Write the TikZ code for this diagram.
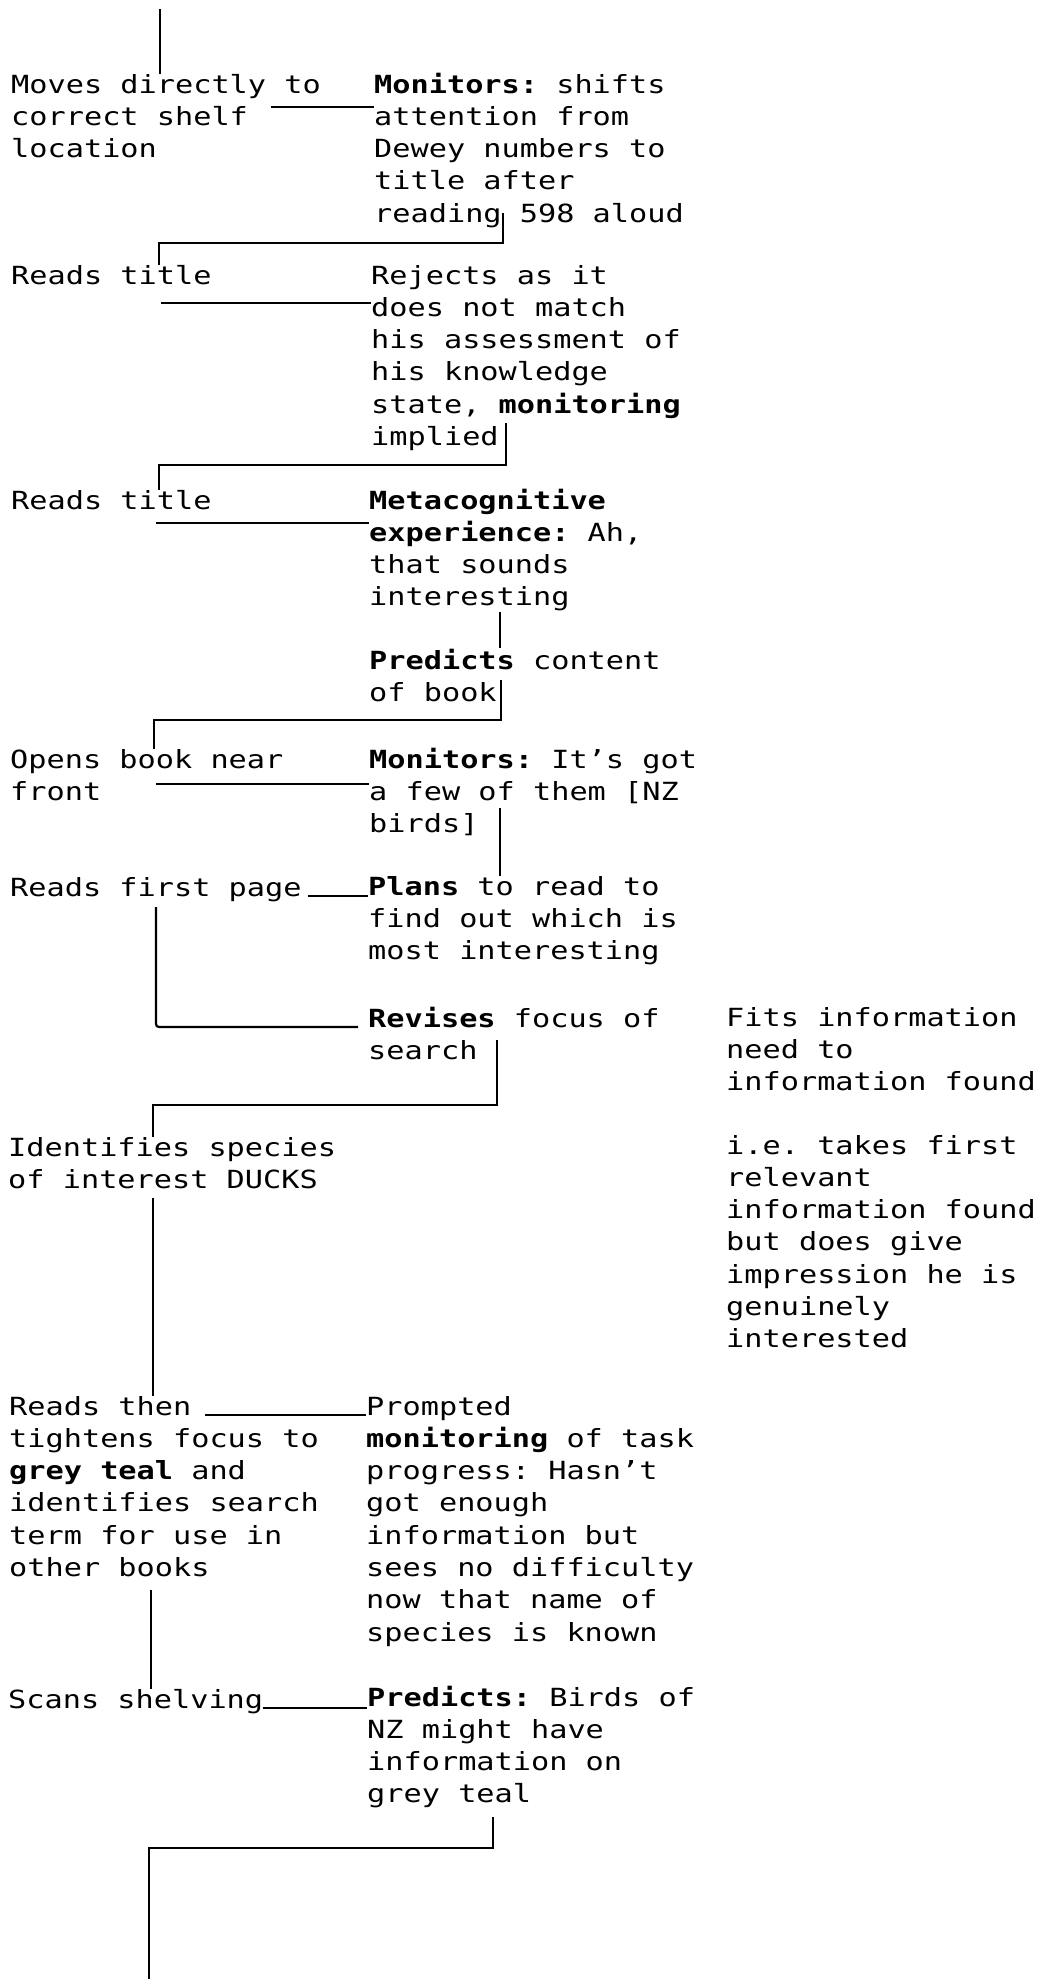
\documentclass[tikz,border=0pt]{standalone}
\usepackage{fontspec}
\setmainfont{DejaVu Sans Mono}[FakeStretch=1.21]

\begin{document}
\begin{tikzpicture}[x=1pt,y=-1pt,
        every node/.style={inner sep=0pt,anchor=base west,font=\fontsize{25}{32.3}\selectfont\frenchspacing},
        box/.style={text width=345pt,align=flush left},
        link/.style={line width=2.2pt}]
        \useasboundingbox (0,0) rectangle (1037,1979);
        \coordinate (s0) at (160,9);
        \coordinate (e0) at (149,1979);

        \node[box] (l1) at (11,93) {Moves directly to\\correct shelf\\location};
        \node[box] (r1) at (374,93) {\textbf{Monitors:} shifts\\attention from\\Dewey numbers to\\title after\\reading 598 aloud};
        \node (l2) at (11,284) {Reads title};
        \node[box] (r2) at (371,284) {Rejects as it\\does not match\\his assessment of\\his knowledge\\state, \textbf{monitoring}\\implied};
        \node (l3) at (11,509) {Reads title};
        \node[box] (r3) at (369,509) {\textbf{Metacognitive}\\\textbf{experience:} Ah,\\that sounds\\interesting};
        \node[box] (r4) at (369,669) {\textbf{Predicts} content\\of book};
        \node[box] (l4) at (10,768) {Opens book near\\front};
        \node[box] (r5) at (369,768) {\textbf{Monitors:} It’s got\\a few of them [NZ\\birds]};
        \node (l5) at (10,896) {Reads first page};
        \node[box] (r6) at (368,895) {\textbf{Plans} to read to\\find out which is\\most interesting};
        \node[box] (r7) at (368,1027) {\textbf{Revises} focus of\\search};
        \node[box] (n1) at (726,1026) {Fits information\\need to\\information found};
        \node[box] (l6) at (8,1156) {Identifies species\\of interest DUCKS};
        \node[box] (n2) at (726,1154) {i.e. takes first\\relevant\\information found\\but does give\\impression he is\\genuinely\\interested};
        \node[box] (l7) at (9,1415) {Reads then\\tightens focus to\\\textbf{grey teal} and\\identifies search\\term for use in\\other books};
        \node[box] (r8) at (366,1415) {Prompted\\\textbf{monitoring} of task\\progress: Hasn’t\\got enough\\information but\\sees no difficulty\\now that name of\\species is known};
        \node (l8) at (8,1708) {Scans shelving};
        \node[box] (r9) at (367,1706) {\textbf{Predicts:} Birds of\\NZ might have\\information on\\grey teal};

        \draw[link] (s0) -- (s0 |- l1.north);
        \draw[link] ([shift={(260,14)}]l1.base west) coordinate (a1) -- (a1 -| r1.west);
        \draw[link] ([shift={(129,120)}]r1.base west) -- ++(0,30) -| ([xshift=148]l2.north west);
        \draw[link] ([shift={(150,19)}]l2.base west) coordinate (a2) -- (a2 -| r2.west);
        \draw[link] ([shift={(135,139)}]r2.base west) -- ++(0,42) -| ([xshift=148]l3.north west);
        \draw[link] ([shift={(145,14)}]l3.base west) coordinate (a3) -- (a3 -| r3.west);
        \draw[link] ([shift={(131,103)}]r3.base west) coordinate (a4) -- (a4 |- r4.north);
        \draw[link] ([shift={(132,11)}]r4.base west) -- ++(0,40) -| ([xshift=144]l4.north west);
        \draw[link] ([shift={(146,16)}]l4.base west) coordinate (a5) -- (a5 -| r5.west);
        \draw[link] ([shift={(131,40)}]r5.base west) coordinate (a6) -- (a6 |- r6.north);
        \draw[link] ([xshift=6]l5.base east) coordinate (a7) -- (a7 -| r6.west);
        \draw[link,rounded corners=3pt] ([shift={(146,11)}]l5.base west) |- ([xshift=-10]r7.base west);
        \draw[link] ([shift={(129,13)}]r7.base west) -- ++(0,65) -| ([xshift=145]l6.north west);
        \draw[link] ([shift={(145,42)}]l6.base west) coordinate (a8) -- (a8 |- l7.north);
        \draw[link] ([shift={(196,0)}]l7.base west) coordinate (a9) -- (a9 -| r8.west);
        \draw[link] ([shift={(142,175)}]l7.base west) coordinate (a10) -- (a10 |- l8.north);
        \draw[link] (l8.base east) coordinate (a11) -- (a11 -| r9.west);
        \draw[link] ([shift={(126,111)}]r9.base west) -- ++(0,31) -| (e0);
\end{tikzpicture}
\end{document}
